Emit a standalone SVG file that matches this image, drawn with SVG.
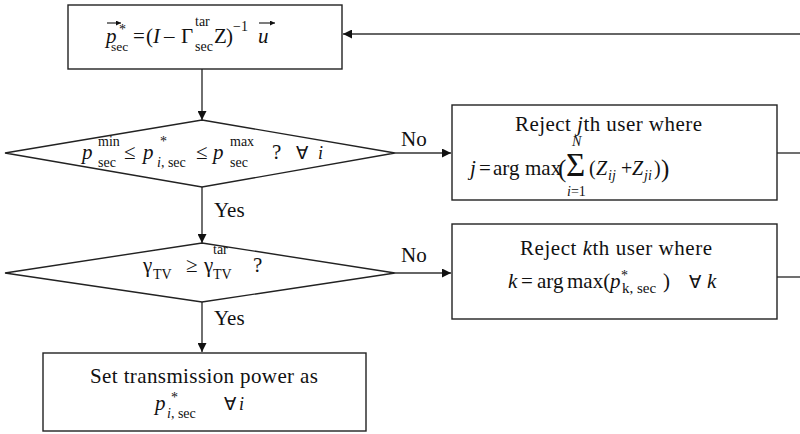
<svg xmlns="http://www.w3.org/2000/svg" width="800" height="434" viewBox="0 0 800 434">
<defs>
<style>
.box{fill:#fff;stroke:#222;stroke-width:1.4}
.ln{fill:none;stroke:#333;stroke-width:1.4}
.t{font-family:"Liberation Serif","Times New Roman",serif;font-size:21px;fill:#111}
.it{font-style:italic}
.s{font-size:14px}
.st{font-size:14px}
.vec{fill:none;stroke:#111;stroke-width:1.1}
</style>
<marker id="ah" viewBox="0 0 10 10" refX="10" refY="5" markerWidth="9" markerHeight="9" markerUnits="userSpaceOnUse" orient="auto">
<path d="M0,0 L10,5 L0,10 z" fill="#111"/>
</marker>
<marker id="vh" viewBox="0 0 10 10" refX="10" refY="5" markerWidth="5" markerHeight="5" markerUnits="userSpaceOnUse" orient="auto">
<path d="M0,0 L10,5 L0,10 z" fill="#111"/>
</marker>
</defs>
<rect width="800" height="434" fill="#fff"/>

<g id="connectors">
<path class="ln" d="M800,34 H343" marker-end="url(#ah)"/>
<path class="ln" d="M202,69 V120" marker-end="url(#ah)"/>
<path class="ln" d="M395,153 H451" marker-end="url(#ah)"/>
<path class="ln" d="M777,153 H800"/>
<path class="ln" d="M202,187 V243" marker-end="url(#ah)"/>
<path class="ln" d="M395,273 H451" marker-end="url(#ah)"/>
<path class="ln" d="M777,277 H800"/>
<path class="ln" d="M202,302 V352" marker-end="url(#ah)"/>
<text class="t" x="401" y="146">No</text>
<text class="t" x="401" y="262">No</text>
<text class="t" x="214" y="217">Yes</text>
<text class="t" x="214" y="325">Yes</text>
</g>

<g id="compute">
<rect class="box" x="68" y="5" width="274" height="64"/>
<path class="vec" d="M107,23 H121" marker-end="url(#vh)"/>
<text class="t">
<tspan class="it" x="106" y="43">p</tspan>
<tspan class="st" x="119" y="34">*</tspan>
<tspan x="111" y="51" font-size="13.5">sec</tspan>
<tspan x="133" y="43">=</tspan>
<tspan x="146" y="43">(</tspan>
<tspan class="it" x="153" y="43">I</tspan>
<tspan x="164" y="43">–</tspan>
<tspan x="181" y="43">Γ</tspan>
<tspan class="s" x="195" y="26">tar</tspan>
<tspan class="s" x="195" y="51">sec</tspan>
<tspan x="214" y="43">Z</tspan>
<tspan x="226" y="43">)</tspan>
<tspan class="s" x="233" y="31">−1</tspan>
<tspan class="it" x="258" y="43">u</tspan>
</text>
<path class="vec" d="M259,23 H275" marker-end="url(#vh)"/>
</g>

<g id="check-power">
<polygon class="box" points="202,120 395,153 202,187 5,153"/>
<text class="t">
<tspan class="it" x="82" y="159">p</tspan>
<tspan class="s" x="98" y="146">min</tspan>
<tspan class="s" x="98" y="167">sec</tspan>
<tspan x="124" y="159">≤</tspan>
<tspan class="it" x="143" y="159">p</tspan>
<tspan class="st" x="160" y="146">*</tspan>
<tspan class="s it" x="157" y="167">i</tspan><tspan class="s">, sec</tspan>
<tspan x="196" y="159">≤</tspan>
<tspan class="it" x="213" y="159">p</tspan>
<tspan class="s" x="230" y="146">max</tspan>
<tspan class="s" x="230" y="167">sec</tspan>
<tspan x="272" y="159">?</tspan>
<tspan x="296" y="159" font-size="18">∀</tspan>
<tspan class="it" x="318" y="159" font-size="18">i</tspan>
</text>
</g>

<g id="reject-j">
<rect class="box" x="452" y="105" width="325" height="95"/>
<text class="t" x="515" y="131" textLength="187">Reject <tspan class="it">j</tspan>th user where</text>
<text class="t" font-size="18">
<tspan class="s it" x="572" y="146">N</tspan>
<tspan class="it" x="470" y="175">j</tspan>
<tspan x="479" y="175">=</tspan>
<tspan x="493" y="175">arg</tspan>
<tspan x="525" y="175">max</tspan>
<tspan x="558" y="177" font-size="25">(</tspan>
<tspan x="566" y="176" font-size="33">Σ</tspan>
<tspan class="s it" x="567" y="196">i</tspan><tspan class="s">=1</tspan>
<tspan x="589" y="175" font-size="20">(</tspan>
<tspan class="it" x="596" y="175" font-size="20">Z</tspan>
<tspan class="s it" x="608" y="180">ij</tspan>
<tspan x="621" y="175" font-size="20">+</tspan>
<tspan class="it" x="632" y="175" font-size="20">Z</tspan>
<tspan class="s it" x="644" y="180">ji</tspan>
<tspan x="654" y="175" font-size="20">)</tspan>
<tspan x="661" y="177" font-size="25">)</tspan>
</text>
</g>

<g id="check-sinr">
<polygon class="box" points="202,243 395,273 202,302 5,273"/>
<text class="t">
<tspan x="143" y="272">γ</tspan>
<tspan class="s" x="153" y="279">TV</tspan>
<tspan x="186" y="272">≥</tspan>
<tspan x="204" y="272">γ</tspan>
<tspan class="s" x="213" y="254">tar</tspan>
<tspan class="s" x="213" y="279">TV</tspan>
<tspan x="253" y="272">?</tspan>
</text>
</g>

<g id="reject-k">
<rect class="box" x="452" y="224" width="325" height="95"/>
<text class="t" x="520" y="255" textLength="192">Reject <tspan class="it">k</tspan>th user where</text>
<text class="t" font-size="20">
<tspan class="it" x="508" y="288">k</tspan>
<tspan x="521" y="288">=</tspan>
<tspan x="537" y="288">arg</tspan>
<tspan x="567" y="288">max(</tspan>
<tspan class="it" x="610" y="288">p</tspan>
<tspan class="st" x="621" y="280">*</tspan>
<tspan x="622" y="293" font-size="15">k, sec</tspan>
<tspan x="663" y="288">)</tspan>
<tspan x="689" y="288" font-size="18">∀</tspan>
<tspan class="it" x="707" y="288">k</tspan>
</text>
</g>

<g id="set-power">
<rect class="box" x="43" y="353" width="323" height="78"/>
<text class="t" x="90" y="383" textLength="228">Set transmission power as</text>
<text class="t">
<tspan class="it" x="155" y="410">p</tspan>
<tspan class="st" x="171" y="402">*</tspan>
<tspan class="s it" x="167" y="418">i</tspan><tspan class="s">, sec</tspan>
<tspan x="224" y="410" font-size="18">∀</tspan>
<tspan class="it" x="239" y="410" font-size="18">i</tspan>
</text>
</g>
</svg>
